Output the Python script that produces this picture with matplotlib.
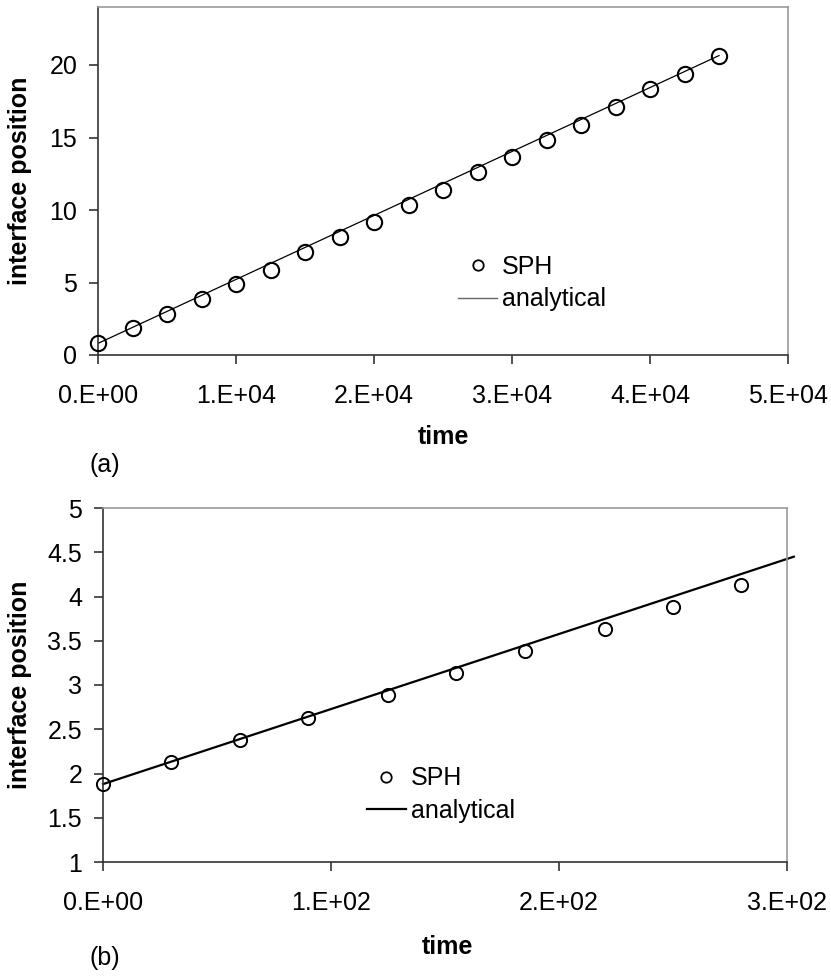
import matplotlib.pyplot as plt
from matplotlib.lines import Line2D
from matplotlib.ticker import FuncFormatter, MultipleLocator

# panel (a) data
time_a = [0, 2500, 5000, 7500, 10000, 12500, 15000, 17500, 20000, 22500,
          25000, 27500, 30000, 32500, 35000, 37500, 40000, 42500, 45000]
sph_a = [0.85, 1.84, 2.83, 3.87, 4.88, 5.87, 7.09, 8.11, 9.14, 10.37,
         11.35, 12.62, 13.66, 14.86, 15.85, 17.10, 18.36, 19.35, 20.60]
ana_time_a = [0, 45000]
ana_a = [0.80, 20.65]

# panel (b) data
time_b = [0, 30, 60, 90, 125, 155, 185, 220, 250, 280]
sph_b = [1.88, 2.13, 2.38, 2.63, 2.89, 3.13, 3.38, 3.63, 3.88, 4.13]
ana_time_b = [0, 303]
ana_b = [1.88, 4.45]

plt.rcParams['font.family'] = ['Liberation Sans', 'DejaVu Sans']
plt.rcParams['font.size'] = 18

DARK = '#333333'
GRAY = '#999999'


def excel_sci(v, pos):
    # Excel style "0.E+00"
    return f"{v:.0E}".replace("E", ".E")


def style_axes(ax):
    ax.spines['left'].set_color(DARK)
    ax.spines['bottom'].set_color(DARK)
    ax.spines['top'].set_color(GRAY)
    ax.spines['right'].set_color(GRAY)
    for s in ax.spines.values():
        s.set_linewidth(1.2)
    ax.tick_params(axis='both', direction='out', length=6.5, width=1.2, color=DARK, labelsize=18)
    ax.tick_params(axis='y', pad=8.5)
    ax.tick_params(axis='x', pad=14.5)
    ax.xaxis.set_major_formatter(FuncFormatter(excel_sci))


fig = plt.figure(figsize=(8.31, 9.77), dpi=100)

# ---- (a) ----
ax1 = fig.add_axes([98 / 831, 1 - 355 / 977, 690 / 831, 348 / 977])
ax1.plot(ana_time_a, ana_a, color='black', lw=0.9, zorder=2)
ax1.plot(time_a, sph_a, 'o', ms=11, mfc='none', mec='black', mew=1.5, clip_on=False, zorder=3)
ax1.set_xlim(0, 50000)
ax1.set_ylim(0, 24)
ax1.xaxis.set_major_locator(MultipleLocator(10000))
ax1.set_yticks([0, 5, 10, 15, 20])
style_axes(ax1)
ax1.set_xlabel('time', fontweight='bold', fontsize=18)
ax1.xaxis.set_label_coords(0.5, -0.201)
ax1.set_ylabel('interface position', fontweight='bold', fontsize=18)
ax1.yaxis.set_label_coords(-0.0957, 0.5)
h1 = [Line2D([], [], ls='none', marker='o', ms=7.5, mfc='none', mec='black', mew=1.3),
      Line2D([], [], color='#666666', lw=1.0)]
ax1.legend(h1, ['SPH', 'analytical'], loc='center left', bbox_to_anchor=(0.522, 0.207),
           frameon=False, fontsize=18, borderpad=0, borderaxespad=0,
           handlelength=1.55, handletextpad=0.2, labelspacing=0.35)
fig.text(105 / 831, 1 - 465 / 977, '(a)', ha='center', va='center', fontsize=18)

# ---- (b) ----
ax2 = fig.add_axes([103 / 831, 1 - 862 / 977, 684 / 831, 354 / 977])
ax2.plot(ana_time_b, ana_b, color='black', lw=1.6, clip_on=False, zorder=2)
ax2.plot(time_b, sph_b, 'o', ms=9.5, mfc='none', mec='black', mew=1.4, clip_on=False, zorder=3)
ax2.set_xlim(0, 300)
ax2.set_ylim(1, 5)
ax2.xaxis.set_major_locator(MultipleLocator(100))
ax2.yaxis.set_major_locator(MultipleLocator(0.5))
ax2.yaxis.set_major_formatter(FuncFormatter(lambda v, p: f"{v:g}"))
style_axes(ax2)
ax2.set_xlabel('time', fontweight='bold', fontsize=18)
ax2.xaxis.set_label_coords(0.503, -0.206)
ax2.set_ylabel('interface position', fontweight='bold', fontsize=18)
ax2.yaxis.set_label_coords(-0.104, 0.5)
h2 = [Line2D([], [], ls='none', marker='o', ms=7.5, mfc='none', mec='black', mew=1.3),
      Line2D([], [], color='black', lw=1.6)]
ax2.legend(h2, ['SPH', 'analytical'], loc='center left', bbox_to_anchor=(0.386, 0.19),
           frameon=False, fontsize=18, borderpad=0, borderaxespad=0,
           handlelength=1.55, handletextpad=0.2, labelspacing=0.35)
fig.text(105 / 831, 1 - 958 / 977, '(b)', ha='center', va='center', fontsize=18)

fig.savefig('out.png', dpi=100)
